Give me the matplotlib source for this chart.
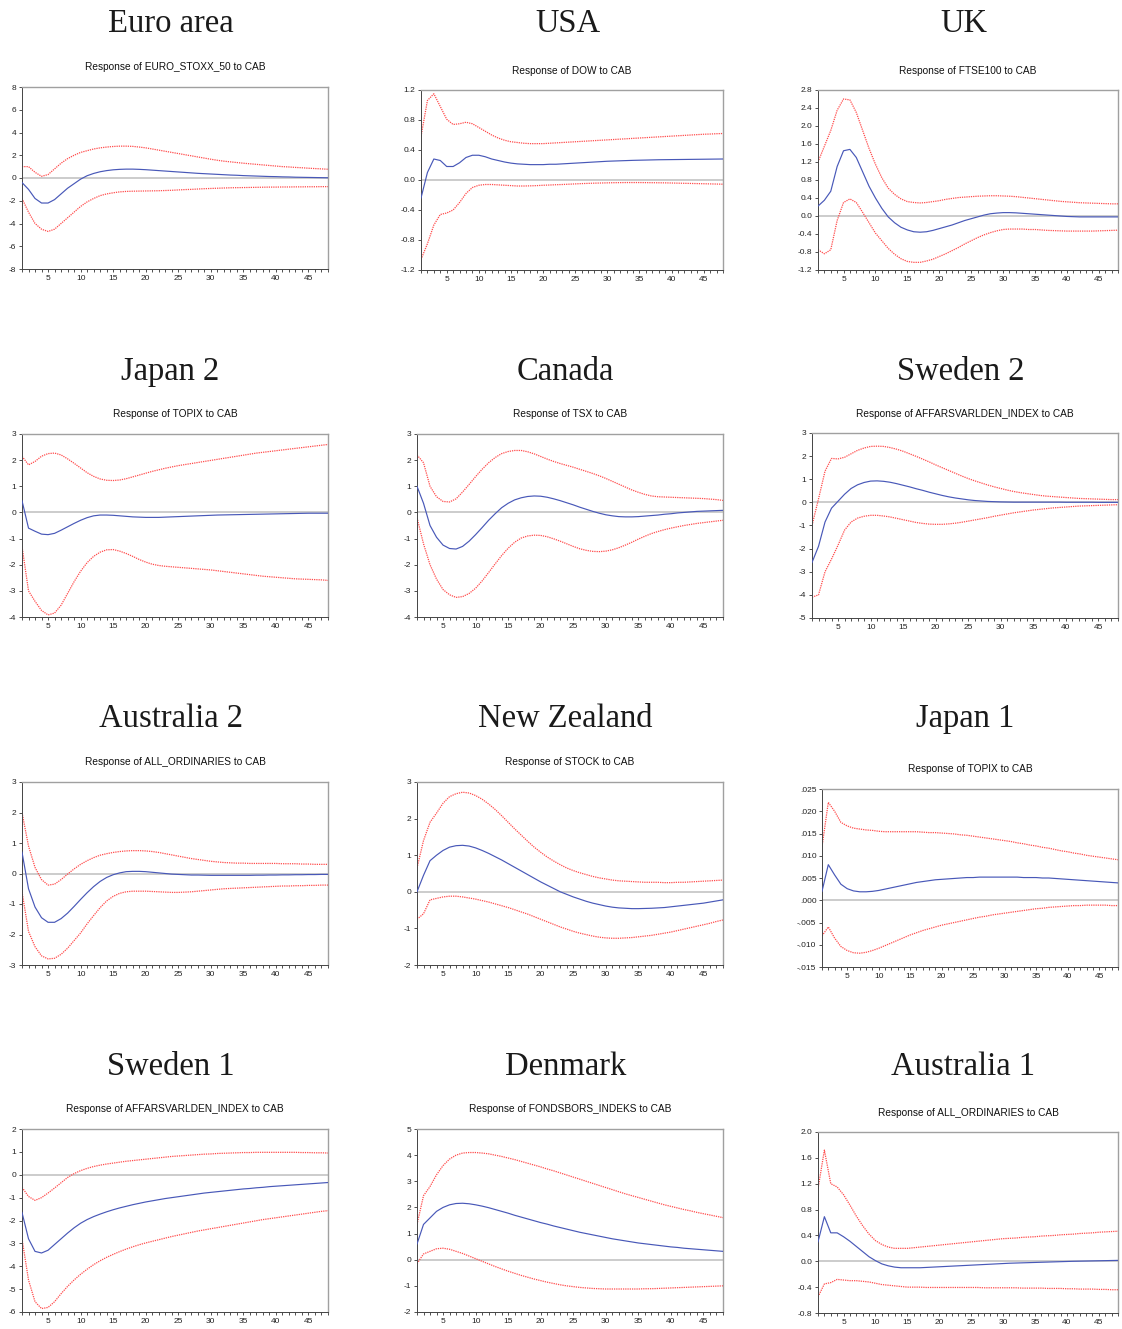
import numpy as np
import matplotlib
matplotlib.use("Agg")
import matplotlib.pyplot as plt
from matplotlib.ticker import MultipleLocator, FixedLocator, FuncFormatter

W, H = 1122, 1329
periods = np.arange(1, 49)

# Euro area
euro_mid = [-0.4, -1.0, -1.8, -2.2, -2.2, -1.9, -1.4, -0.9, -0.5, -0.1, 0.2, 0.4, 0.55, 0.65, 0.72, 0.76,
            0.78, 0.78, 0.76, 0.73, 0.69, 0.65, 0.61, 0.57, 0.53, 0.49, 0.45, 0.41, 0.38, 0.35, 0.32, 0.29,
            0.26, 0.24, 0.21, 0.19, 0.17, 0.15, 0.13, 0.12, 0.10, 0.09, 0.07, 0.06, 0.05, 0.04, 0.03, 0.02]
euro_up = [1.0, 1.0, 0.5, 0.15, 0.3, 0.8, 1.3, 1.7, 2.0, 2.25, 2.4, 2.55, 2.65, 2.72, 2.77, 2.8,
           2.8, 2.78, 2.72, 2.65, 2.55, 2.45, 2.35, 2.25, 2.15, 2.05, 1.95, 1.85, 1.75, 1.65, 1.56, 1.48,
           1.42, 1.36, 1.3, 1.25, 1.2, 1.15, 1.1, 1.05, 1.0, 0.97, 0.93, 0.9, 0.86, 0.83, 0.8, 0.77]
euro_lo = [-1.8, -3.0, -4.0, -4.5, -4.7, -4.5, -4.0, -3.5, -3.0, -2.5, -2.1, -1.8, -1.55, -1.4, -1.3, -1.22,
           -1.18, -1.16, -1.15, -1.14, -1.13, -1.12, -1.1, -1.08, -1.05, -1.02, -1.0, -0.97, -0.94, -0.92, -0.9, -0.88,
           -0.86, -0.85, -0.84, -0.83, -0.82, -0.81, -0.8, -0.8, -0.79, -0.79, -0.78, -0.78, -0.77, -0.77, -0.76, -0.76]

# USA
usa_mid = [-0.24, 0.1, 0.28, 0.26, 0.18, 0.18, 0.23, 0.3, 0.33, 0.33, 0.31, 0.28, 0.26, 0.24, 0.225, 0.215,
           0.21, 0.205, 0.205, 0.205, 0.21, 0.21, 0.215, 0.22, 0.225, 0.23, 0.235, 0.24, 0.245, 0.25, 0.253, 0.256,
           0.259, 0.262, 0.264, 0.266, 0.268, 0.27, 0.271, 0.272, 0.273, 0.274, 0.275, 0.276, 0.277, 0.278, 0.279, 0.28]
usa_up = [0.58, 1.06, 1.15, 0.98, 0.81, 0.74, 0.75, 0.77, 0.75, 0.7, 0.65, 0.6, 0.56, 0.53, 0.51, 0.5,
          0.49, 0.485, 0.485, 0.485, 0.49, 0.495, 0.5, 0.505, 0.51, 0.515, 0.52, 0.525, 0.53, 0.535, 0.54, 0.545,
          0.55, 0.555, 0.56, 0.565, 0.57, 0.575, 0.58, 0.585, 0.59, 0.595, 0.6, 0.605, 0.61, 0.613, 0.617, 0.62]
usa_lo = [-1.06, -0.85, -0.6, -0.46, -0.44, -0.4, -0.3, -0.18, -0.1, -0.07, -0.06, -0.06, -0.065, -0.07, -0.075, -0.08,
          -0.08, -0.078, -0.075, -0.07, -0.067, -0.063, -0.06, -0.056, -0.052, -0.048, -0.045, -0.042, -0.04, -0.038, -0.036, -0.035,
          -0.034, -0.034, -0.034, -0.035, -0.036, -0.037, -0.038, -0.04, -0.042, -0.044, -0.046, -0.048, -0.05, -0.052, -0.054, -0.056]

# UK
uk_mid = [0.22, 0.35, 0.55, 1.1, 1.45, 1.48, 1.3, 0.98, 0.66, 0.4, 0.17, -0.02, -0.15, -0.25, -0.31, -0.35,
          -0.36, -0.35, -0.32, -0.28, -0.24, -0.2, -0.15, -0.1, -0.06, -0.02, 0.02, 0.05, 0.065, 0.075, 0.075, 0.07,
          0.06, 0.05, 0.04, 0.03, 0.02, 0.01, 0.0, -0.01, -0.015, -0.02, -0.02, -0.02, -0.02, -0.02, -0.02, -0.02]
uk_up = [1.2, 1.55, 1.9, 2.35, 2.6, 2.58, 2.3, 1.9, 1.5, 1.15, 0.85, 0.62, 0.48, 0.38, 0.32, 0.3,
         0.29, 0.3, 0.32, 0.34, 0.37, 0.39, 0.41, 0.42, 0.43, 0.44, 0.445, 0.45, 0.45, 0.445, 0.44, 0.43,
         0.415, 0.4, 0.385, 0.37, 0.355, 0.34, 0.325, 0.315, 0.305, 0.295, 0.29, 0.285, 0.28, 0.275, 0.27, 0.27]
uk_lo = [-0.75, -0.84, -0.75, -0.1, 0.3, 0.38, 0.3, 0.08, -0.15, -0.38, -0.55, -0.72, -0.85, -0.95, -1.01, -1.03,
         -1.03, -1.0, -0.96, -0.9, -0.84, -0.77, -0.7, -0.62, -0.55, -0.48, -0.42, -0.37, -0.33, -0.3, -0.29, -0.29,
         -0.29, -0.3, -0.3, -0.31, -0.32, -0.325, -0.33, -0.335, -0.335, -0.335, -0.335, -0.335, -0.33, -0.325, -0.32, -0.315]

# Japan 2
jp2_mid = [0.45, -0.6, -0.72, -0.83, -0.85, -0.8, -0.68, -0.55, -0.42, -0.3, -0.2, -0.13, -0.1, -0.1, -0.11, -0.13,
           -0.15, -0.17, -0.18, -0.19, -0.19, -0.19, -0.18, -0.17, -0.16, -0.15, -0.14, -0.13, -0.12, -0.11, -0.1, -0.095,
           -0.09, -0.085, -0.08, -0.075, -0.07, -0.065, -0.06, -0.055, -0.05, -0.045, -0.04, -0.035, -0.03, -0.03, -0.03, -0.03]
jp2_up = [2.15, 1.82, 1.95, 2.15, 2.25, 2.27, 2.2, 2.05, 1.88, 1.7, 1.52, 1.38, 1.28, 1.23, 1.22, 1.24,
          1.29, 1.36, 1.43, 1.5, 1.57, 1.63, 1.69, 1.74, 1.79, 1.83, 1.87, 1.91, 1.95, 1.99, 2.03, 2.07,
          2.11, 2.15, 2.19, 2.23, 2.27, 2.3, 2.33, 2.36, 2.39, 2.42, 2.45, 2.48, 2.51, 2.54, 2.57, 2.6]
jp2_lo = [-1.3, -3.0, -3.4, -3.75, -3.92, -3.85, -3.55, -3.1, -2.65, -2.25, -1.92, -1.68, -1.52, -1.43, -1.42, -1.48,
          -1.57, -1.68, -1.8, -1.9, -1.98, -2.03, -2.06, -2.08, -2.1, -2.12, -2.14, -2.16, -2.18, -2.2, -2.23, -2.26,
          -2.29, -2.32, -2.35, -2.38, -2.41, -2.44, -2.46, -2.48, -2.5, -2.52, -2.54, -2.55, -2.56, -2.57, -2.58, -2.6]

# Canada
ca_mid = [1.0, 0.35, -0.5, -0.95, -1.25, -1.38, -1.4, -1.3, -1.1, -0.85, -0.58, -0.3, -0.05, 0.18, 0.35, 0.48,
          0.56, 0.61, 0.63, 0.62, 0.58, 0.52, 0.45, 0.37, 0.29, 0.2, 0.12, 0.04, -0.03, -0.09, -0.13, -0.16,
          -0.17, -0.17, -0.16, -0.14, -0.12, -0.1, -0.07, -0.05, -0.02, 0.0, 0.02, 0.04, 0.05, 0.06, 0.07, 0.08]
ca_up = [2.2, 1.9, 1.0, 0.6, 0.42, 0.4, 0.52, 0.78, 1.07, 1.37, 1.65, 1.9, 2.1, 2.25, 2.33, 2.37,
         2.37, 2.32, 2.24, 2.14, 2.04, 1.95, 1.87, 1.8, 1.73, 1.65, 1.57, 1.49, 1.4, 1.3, 1.19, 1.08,
         0.97, 0.86, 0.77, 0.69, 0.63, 0.6, 0.59, 0.58, 0.57, 0.56, 0.55, 0.54, 0.53, 0.51, 0.49, 0.46]
ca_lo = [-0.2, -1.2, -2.0, -2.55, -2.95, -3.15, -3.25, -3.22, -3.1, -2.9, -2.62, -2.3, -1.97, -1.65, -1.37, -1.14,
         -0.98, -0.9, -0.87, -0.88, -0.93, -1.01, -1.1, -1.2, -1.3, -1.39, -1.45, -1.49, -1.5, -1.48, -1.43, -1.35,
         -1.25, -1.14, -1.02, -0.91, -0.81, -0.73, -0.66, -0.6, -0.55, -0.5, -0.46, -0.42, -0.39, -0.36, -0.33, -0.3]

# Sweden 2
se2_mid = [-2.6, -1.9, -0.85, -0.25, 0.05, 0.35, 0.6, 0.76, 0.86, 0.92, 0.93, 0.91, 0.87, 0.81, 0.74, 0.67,
           0.59, 0.52, 0.44, 0.37, 0.3, 0.24, 0.19, 0.15, 0.11, 0.08, 0.06, 0.04, 0.03, 0.02, 0.015, 0.01,
           0.01, 0.01, 0.01, 0.01, 0.01, 0.01, 0.01, 0.005, 0.005, 0.005, 0.005, 0.005, 0.0, 0.0, 0.0, 0.0]
se2_up = [-1.0, 0.15, 1.35, 1.9, 1.88, 1.95, 2.1, 2.25, 2.35, 2.42, 2.43, 2.42, 2.37, 2.3, 2.21, 2.1,
          1.99, 1.87, 1.75, 1.62, 1.5, 1.38, 1.26, 1.14, 1.03, 0.93, 0.84, 0.75, 0.67, 0.6, 0.53, 0.47,
          0.42, 0.38, 0.34, 0.3, 0.27, 0.25, 0.23, 0.21, 0.19, 0.17, 0.16, 0.15, 0.14, 0.13, 0.12, 0.12]
se2_lo = [-4.1, -4.0, -3.0, -2.45, -1.85, -1.2, -0.85, -0.68, -0.6, -0.56, -0.56, -0.59, -0.63, -0.69, -0.75, -0.81,
          -0.87, -0.91, -0.94, -0.95, -0.95, -0.93, -0.9, -0.86, -0.81, -0.76, -0.71, -0.66, -0.6, -0.55, -0.5, -0.45,
          -0.41, -0.37, -0.33, -0.3, -0.27, -0.24, -0.22, -0.2, -0.18, -0.16, -0.15, -0.14, -0.13, -0.12, -0.11, -0.1]

# Australia 2
au2_mid = [0.7, -0.5, -1.1, -1.45, -1.6, -1.6, -1.48, -1.3, -1.08, -0.85, -0.63, -0.43, -0.26, -0.13, -0.04, 0.02,
           0.06, 0.07, 0.07, 0.06, 0.04, 0.02, 0.0, -0.02, -0.03, -0.04, -0.05, -0.05, -0.055, -0.06, -0.06, -0.06,
           -0.06, -0.06, -0.06, -0.06, -0.055, -0.055, -0.05, -0.05, -0.045, -0.045, -0.04, -0.04, -0.035, -0.035, -0.03, -0.03]
au2_up = [2.0, 0.9, 0.2, -0.2, -0.38, -0.35, -0.2, -0.02, 0.15, 0.3, 0.42, 0.52, 0.6, 0.65, 0.69, 0.72,
          0.74, 0.75, 0.75, 0.74, 0.72, 0.69, 0.65, 0.61, 0.57, 0.53, 0.49, 0.46, 0.43, 0.4, 0.38, 0.36,
          0.35, 0.34, 0.34, 0.33, 0.33, 0.33, 0.33, 0.33, 0.32, 0.32, 0.32, 0.31, 0.31, 0.3, 0.3, 0.3]
au2_lo = [-0.6, -1.9, -2.4, -2.7, -2.8, -2.78, -2.65, -2.45, -2.2, -1.95, -1.65, -1.38, -1.12, -0.9, -0.75, -0.65,
          -0.6, -0.58, -0.58, -0.58, -0.59, -0.6, -0.61, -0.62, -0.62, -0.61, -0.6, -0.58, -0.56, -0.54, -0.52, -0.5,
          -0.49, -0.48, -0.47, -0.46, -0.45, -0.44, -0.43, -0.42, -0.41, -0.41, -0.4, -0.4, -0.39, -0.39, -0.38, -0.38]

# New Zealand
nz_mid = [0.0, 0.45, 0.85, 1.0, 1.13, 1.22, 1.26, 1.27, 1.25, 1.2, 1.13, 1.05, 0.96, 0.87, 0.77, 0.67,
          0.57, 0.47, 0.37, 0.27, 0.18, 0.09, 0.0, -0.07, -0.14, -0.2, -0.26, -0.31, -0.35, -0.39, -0.42, -0.44,
          -0.45, -0.46, -0.46, -0.455, -0.45, -0.44, -0.43, -0.41, -0.39, -0.37, -0.35, -0.33, -0.31, -0.28, -0.25, -0.22]
nz_up = [0.65, 1.4, 1.9, 2.15, 2.42, 2.6, 2.68, 2.72, 2.7, 2.63, 2.53, 2.4, 2.25, 2.08, 1.9, 1.72,
         1.55, 1.38, 1.22, 1.08, 0.95, 0.84, 0.74, 0.65, 0.58, 0.52, 0.47, 0.42, 0.38, 0.35, 0.32, 0.3,
         0.29, 0.28, 0.27, 0.26, 0.26, 0.26, 0.25, 0.25, 0.26, 0.26, 0.27, 0.28, 0.29, 0.3, 0.31, 0.32]
nz_lo = [-0.75, -0.6, -0.22, -0.18, -0.14, -0.12, -0.12, -0.14, -0.17, -0.2, -0.24, -0.28, -0.33, -0.38, -0.43, -0.49,
         -0.55, -0.61, -0.68, -0.75, -0.82, -0.89, -0.96, -1.02, -1.08, -1.13, -1.17, -1.21, -1.24, -1.26, -1.27, -1.27,
         -1.26, -1.25, -1.23, -1.21, -1.19, -1.16, -1.13, -1.1, -1.06, -1.02, -0.98, -0.94, -0.9, -0.86, -0.81, -0.77]

# Japan 1
jp1_mid = [0.002, 0.008, 0.0057, 0.0036, 0.0026, 0.0021, 0.0019, 0.0019, 0.002, 0.0022, 0.0025, 0.0028, 0.0031, 0.0034, 0.0037, 0.004,
           0.0042, 0.0044, 0.0046, 0.0047, 0.0048, 0.0049, 0.005, 0.0051, 0.0051, 0.0052, 0.0052, 0.0052, 0.0052, 0.0052, 0.0052, 0.0052,
           0.0051, 0.0051, 0.0051, 0.005, 0.005, 0.0049, 0.0048, 0.0047, 0.0046, 0.0045, 0.0044, 0.0043, 0.0042, 0.0041, 0.004, 0.0039]
jp1_up = [0.012, 0.022, 0.02, 0.0175, 0.0167, 0.0162, 0.016, 0.0158, 0.0157, 0.0155, 0.0154, 0.0154, 0.0154, 0.0154, 0.0154, 0.0154,
          0.0153, 0.0152, 0.0152, 0.0151, 0.015, 0.0149, 0.0147, 0.0146, 0.0144, 0.0142, 0.014, 0.0138, 0.0136, 0.0134, 0.0132, 0.0129,
          0.0127, 0.0124, 0.0122, 0.0119, 0.0117, 0.0114, 0.0111, 0.0109, 0.0106, 0.0104, 0.0101, 0.0099, 0.0097, 0.0095, 0.0093, 0.0091]
jp1_lo = [-0.008, -0.006, -0.0085, -0.0104, -0.0113, -0.0118, -0.0119, -0.0117, -0.0113, -0.0108, -0.0102, -0.0096, -0.009, -0.0084, -0.0078, -0.0073,
          -0.0068, -0.0064, -0.006, -0.0056, -0.0053, -0.005, -0.0047, -0.0044, -0.0041, -0.0038, -0.0036, -0.0033, -0.0031, -0.0029, -0.0027, -0.0025,
          -0.0023, -0.0021, -0.0019, -0.0018, -0.0016, -0.0015, -0.0014, -0.0013, -0.0012, -0.0012, -0.0011, -0.0011, -0.0011, -0.0011, -0.0012, -0.0012]

# Sweden 1
se1_mid = [-1.65, -2.8, -3.35, -3.42, -3.3, -3.05, -2.8, -2.55, -2.32, -2.12, -1.96, -1.83, -1.72, -1.62, -1.53, -1.45,
           -1.38, -1.31, -1.25, -1.19, -1.14, -1.09, -1.04, -1.0, -0.96, -0.92, -0.88, -0.84, -0.8, -0.77, -0.74, -0.71,
           -0.68, -0.65, -0.62, -0.6, -0.57, -0.55, -0.52, -0.5, -0.48, -0.46, -0.44, -0.42, -0.4, -0.38, -0.36, -0.34]
se1_up = [-0.55, -0.95, -1.12, -1.0, -0.8, -0.58, -0.35, -0.12, 0.05, 0.18, 0.28, 0.36, 0.42, 0.47, 0.51, 0.55,
          0.59, 0.62, 0.65, 0.68, 0.71, 0.74, 0.77, 0.8, 0.82, 0.84, 0.86, 0.88, 0.9, 0.91, 0.93, 0.94,
          0.95, 0.96, 0.97, 0.97, 0.98, 0.98, 0.98, 0.98, 0.98, 0.98, 0.98, 0.97, 0.97, 0.96, 0.96, 0.95]
se1_lo = [-2.8, -4.6, -5.55, -5.85, -5.8, -5.55, -5.2, -4.88, -4.6, -4.35, -4.13, -3.93, -3.76, -3.61, -3.48, -3.36,
          -3.25, -3.15, -3.06, -2.98, -2.91, -2.84, -2.77, -2.7, -2.64, -2.58, -2.52, -2.46, -2.41, -2.36, -2.31, -2.26,
          -2.21, -2.16, -2.11, -2.06, -2.01, -1.96, -1.92, -1.88, -1.84, -1.8, -1.76, -1.72, -1.68, -1.64, -1.6, -1.57]

# Denmark
dk_mid = [0.6, 1.35, 1.6, 1.85, 2.0, 2.1, 2.15, 2.16, 2.14, 2.1, 2.05, 1.99, 1.92, 1.85, 1.78, 1.7,
          1.63, 1.56, 1.49, 1.42, 1.36, 1.29, 1.23, 1.17, 1.11, 1.05, 1.0, 0.95, 0.9, 0.85, 0.8, 0.76,
          0.72, 0.68, 0.64, 0.61, 0.58, 0.55, 0.52, 0.49, 0.47, 0.44, 0.42, 0.4, 0.38, 0.36, 0.34, 0.32]
dk_up = [1.35, 2.45, 2.8, 3.25, 3.6, 3.85, 4.0, 4.08, 4.1, 4.1, 4.08, 4.05, 4.0, 3.95, 3.89, 3.83,
         3.76, 3.69, 3.62, 3.55, 3.47, 3.4, 3.32, 3.24, 3.16, 3.08, 3.0, 2.92, 2.84, 2.76, 2.68, 2.6,
         2.52, 2.45, 2.38, 2.31, 2.24, 2.17, 2.1, 2.04, 1.98, 1.92, 1.87, 1.81, 1.76, 1.71, 1.66, 1.61]
dk_lo = [-0.15, 0.22, 0.32, 0.42, 0.44, 0.4, 0.32, 0.24, 0.14, 0.04, -0.06, -0.16, -0.26, -0.35, -0.44, -0.52,
         -0.6, -0.67, -0.74, -0.8, -0.86, -0.91, -0.96, -1.0, -1.03, -1.06, -1.08, -1.1, -1.11, -1.12, -1.12, -1.12,
         -1.12, -1.12, -1.12, -1.11, -1.11, -1.1, -1.09, -1.08, -1.07, -1.06, -1.05, -1.04, -1.03, -1.02, -1.01, -1.0]

# Australia 1
au1_mid = [0.3, 0.69, 0.44, 0.44, 0.38, 0.31, 0.23, 0.15, 0.07, 0.01, -0.04, -0.07, -0.09, -0.1, -0.1, -0.1,
           -0.1, -0.095, -0.09, -0.085, -0.08, -0.075, -0.07, -0.065, -0.06, -0.055, -0.05, -0.045, -0.04, -0.035, -0.03, -0.027,
           -0.024, -0.021, -0.018, -0.015, -0.012, -0.009, -0.006, -0.003, 0.0, 0.002, 0.004, 0.006, 0.008, 0.01, 0.012, 0.014]
au1_up = [1.12, 1.72, 1.2, 1.15, 1.03, 0.87, 0.7, 0.55, 0.42, 0.32, 0.26, 0.22, 0.2, 0.2, 0.2, 0.21,
          0.22, 0.23, 0.24, 0.25, 0.26, 0.27, 0.28, 0.29, 0.3, 0.31, 0.32, 0.33, 0.34, 0.35, 0.355, 0.36,
          0.37, 0.375, 0.38, 0.39, 0.395, 0.4, 0.41, 0.415, 0.42, 0.43, 0.435, 0.44, 0.45, 0.455, 0.46, 0.465]
au1_lo = [-0.55, -0.35, -0.33, -0.28, -0.29, -0.3, -0.3, -0.31, -0.32, -0.34, -0.36, -0.37, -0.38, -0.39, -0.4, -0.4,
          -0.4, -0.405, -0.405, -0.405, -0.405, -0.405, -0.405, -0.405, -0.405, -0.405, -0.41, -0.41, -0.41, -0.41, -0.41, -0.41,
          -0.415, -0.415, -0.415, -0.415, -0.42, -0.42, -0.42, -0.425, -0.425, -0.43, -0.43, -0.43, -0.435, -0.435, -0.44, -0.44]


def fmt_int(v, p):
    return "%d" % round(v)


def fmt_1(v, p):
    return "%.1f" % v


def fmt_dot3(v, p):
    s = "%.3f" % v
    if s.startswith("-0"):
        return "-" + s[2:]
    if s.startswith("0"):
        return s[1:]
    return s


# name, subtitle, data, y range, y step, formatter, axes box (px), title y, subtitle y
panels = [
    ("Euro area", "Response of EURO_STOXX_50 to CAB", (euro_mid, euro_up, euro_lo), (-8, 8), 2, fmt_int,
     (22, 87, 328, 269), 22, 67),
    ("USA", "Response of DOW to CAB", (usa_mid, usa_up, usa_lo), (-1.2, 1.2), 0.4, fmt_1,
     (421, 90, 723, 270), 22, 71),
    ("UK", "Response of FTSE100 to CAB", (uk_mid, uk_up, uk_lo), (-1.2, 2.8), 0.4, fmt_1,
     (818, 90, 1118, 270), 22, 71),
    ("Japan 2", "Response of TOPIX to CAB", (jp2_mid, jp2_up, jp2_lo), (-4, 3), 1, fmt_int,
     (22, 434, 328, 617), 370, 414),
    ("Canada", "Response of TSX to CAB", (ca_mid, ca_up, ca_lo), (-4, 3), 1, fmt_int,
     (417, 434, 723, 617), 370, 414),
    ("Sweden 2", "Response of AFFARSVARLDEN_INDEX to CAB", (se2_mid, se2_up, se2_lo), (-5, 3), 1, fmt_int,
     (812, 433, 1118, 618), 370, 414),
    ("Australia 2", "Response of ALL_ORDINARIES to CAB", (au2_mid, au2_up, au2_lo), (-3, 3), 1, fmt_int,
     (22, 782, 328, 965), 717, 762),
    ("New Zealand", "Response of STOCK to CAB", (nz_mid, nz_up, nz_lo), (-2, 3), 1, fmt_int,
     (417, 782, 723, 965), 717, 762),
    ("Japan 1", "Response of TOPIX to CAB", (jp1_mid, jp1_up, jp1_lo), (-0.015, 0.025), 0.005, fmt_dot3,
     (822, 789, 1118, 967), 717, 769),
    ("Sweden 1", "Response of AFFARSVARLDEN_INDEX to CAB", (se1_mid, se1_up, se1_lo), (-6, 2), 1, fmt_int,
     (22, 1129, 328, 1312), 1065, 1109),
    ("Denmark", "Response of FONDSBORS_INDEKS to CAB", (dk_mid, dk_up, dk_lo), (-2, 5), 1, fmt_int,
     (417, 1129, 723, 1312), 1065, 1109),
    ("Australia 1", "Response of ALL_ORDINARIES to CAB", (au1_mid, au1_up, au1_lo), (-0.8, 2.0), 0.4, fmt_1,
     (818, 1132, 1118, 1313), 1065, 1113),
]

fig = plt.figure(figsize=(W / 100, H / 100), dpi=100)
fig.patch.set_facecolor("white")

for name, sub, (mid, up, lo), (y0, y1), step, fmt, (l, t, r, b), ty, sy in panels:
    ax = fig.add_axes([l / W, 1 - b / H, (r - l) / W, (b - t) / H])
    ax.axhline(0, color="#c8c8c8", lw=1.3, zorder=1)
    ax.plot(periods, up, color="#ff4b4b", lw=0.9, ls=(0, (1, 0.8)), zorder=2)
    ax.plot(periods, lo, color="#ff4b4b", lw=0.9, ls=(0, (1, 0.8)), zorder=2)
    ax.plot(periods, mid, color="#4858b8", lw=0.85, zorder=3)
    ax.set_xlim(1, 48)
    ax.set_ylim(y0, y1)
    nt = int(round((y1 - y0) / step))
    ax.yaxis.set_major_locator(FixedLocator([y0 + i * step for i in range(nt + 1)]))
    ax.yaxis.set_major_formatter(FuncFormatter(fmt))
    ax.xaxis.set_major_locator(FixedLocator([5, 10, 15, 20, 25, 30, 35, 40, 45]))
    ax.xaxis.set_minor_locator(MultipleLocator(1))
    ax.tick_params(axis="both", which="both", direction="out", length=2.5, width=0.6,
                   color="#333333", labelsize=6, pad=1.5, labelcolor="#222222")
    for side in ("top", "right"):
        ax.spines[side].set_color("#a0a0a0")
        ax.spines[side].set_linewidth(1.0)
    for side in ("left", "bottom"):
        ax.spines[side].set_color("#444444")
        ax.spines[side].set_linewidth(0.7)
    for lab in ax.get_xticklabels() + ax.get_yticklabels():
        lab.set_family("Liberation Sans")

    cx = (l + r) / 2
    fig.text(cx / W - 0.004, 1 - (ty + 2) / H, name, ha="center", va="center",
             family="Liberation Serif", fontsize=23.5, color="#1a1a1a")
    fig.text(cx / W, 1 - sy / H, sub, ha="center", va="center",
             family="Liberation Sans", fontsize=7.3, color="#111111")

fig.savefig("out.png", dpi=100, facecolor="white")
